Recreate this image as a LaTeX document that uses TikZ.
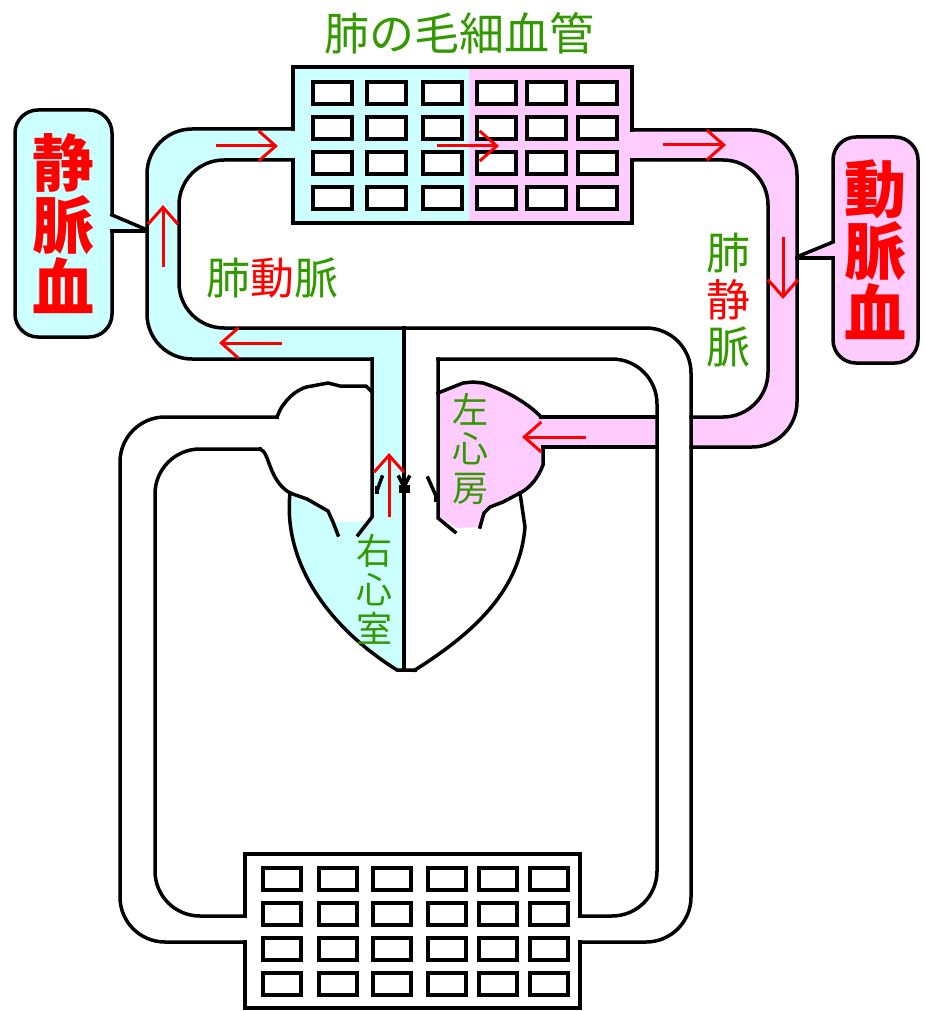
\documentclass[tikz,border=0pt]{standalone}
\usepackage{fontspec}
\newfontfamily\jp{Noto Sans CJK JP}
\usetikzlibrary{arrows.meta}
\definecolor{bluef}{HTML}{CCFFFF}
\definecolor{pinkf}{HTML}{FFCCFF}
\definecolor{grn}{HTML}{339900}
\begin{document}
\begin{tikzpicture}[x=1pt,y=-1pt,
  wall/.style={draw=black, line width=3.5pt, line cap=rect},
  pipe/.style={wall, rounded corners=45pt},
  cellbox/.style={draw=black, fill=white, line width=3.2pt},
  flow/.style={draw=red, line width=3pt, -{Straight Barb[length=17pt,width=30pt]}},
  tag/.style={inner sep=0pt, align=center},
  bigtag/.style={tag, draw=black, line width=3.5pt, rounded corners=23pt,
    font={\jp\bfseries\fontsize{62}{62}\selectfont}, text=red}]
\useasboundingbox (0,0) rectangle (925,1011);

% ---------- fills ----------
% pulmonary artery (blue)
\begin{scope}
  \clip (0,0) rectangle (404,400);
  \fill[bluef, rounded corners=45pt] (147,129) rectangle (500,359);
  \fill[white, rounded corners=45pt] (179,160) rectangle (500,328);
\end{scope}
% pulmonary vein (pink)
\begin{scope}
  \clip (545,0) rectangle (925,460);
  \fill[pinkf, rounded corners=45pt] (400,130) rectangle (797,447);
  \fill[white, rounded corners=45pt] (400,160) rectangle (768,417);
\end{scope}
\fill[white] (657,400) rectangle (691,460);
% lung capillary bed
\fill[bluef] (293,67) rectangle (469,223);
\fill[pinkf] (469,67) rectangle (632,223);
% right ventricle and trunk
\fill[bluef] (290,493) -- (307,499) -- (328,511) -- (333,522) -- (366,522)
  -- (372,517) -- (372,359) -- (404,359) -- (404,670) -- (400,670)
  .. controls (325,625) and (283,560) .. (290,493) -- cycle;
% left atrium
\fill[pinkf] (438,393) -- (463,383) -- (473,382) -- (483,383)
  .. controls (505,390) and (528,403) .. (541,417) -- (546,417) -- (546,447)
  -- (543,447) -- (543,465) .. controls (538,478) and (530,488) .. (520,493)
  -- (503,502) -- (490,507) -- (484,513) -- (480,527) -- (457,528)
  -- (442,518) -- (438,518) -- cycle;

% ---------- walls ----------
% capillary boxes
\draw[wall] (632,130) -- (632,67) -- (293,67) -- (293,129);
\draw[wall] (632,160) -- (632,223) -- (293,223) -- (293,160);
\draw[wall] (245,916) -- (245,854) -- (580,854) -- (580,916);
\draw[wall] (245,942) -- (245,1008) -- (580,1008) -- (580,942);
% pulmonary artery
\draw[pipe] (293,129) -- (147,129) -- (147,359) -- (372,359);
\draw[wall] (372,359) -- (372,517) -- (358,535);
% outer systemic artery wall
\draw[pipe] (293,160) -- (179,160) -- (179,328) -- (691,328) -- (691,942) -- (580,942);
% inner systemic artery wall
\draw[wall] (455,532) -- (438,518) -- (438,359);
\draw[pipe] (438,359) -- (657,359) -- (657,916) -- (580,916);
% septum
\draw[wall] (404,328) -- (404,670);
% pulmonary vein
\draw[pipe] (632,130) -- (797,130) -- (797,447) -- (691,447);
\draw[pipe] (632,160) -- (768,160) -- (768,417) -- (691,417);
\draw[wall] (657,417) -- (541,417);
\draw[wall] (657,447) -- (543,447);
% systemic vein
\draw[pipe] (277,417) -- (120,417) -- (120,942) -- (245,942);
\draw[pipe] (260,449) -- (155,449) -- (155,916) -- (245,916);
% right atrium
\draw[wall] (277,417) -- (280,410) .. controls (288,396) and (300,387) .. (312,386)
  -- (328,383) -- (340,386) -- (366,386) -- (372,392);
\draw[wall] (260,449) .. controls (270,452) and (268,480) .. (290,493)
  -- (307,499) -- (328,511) -- (333,522) -- (338,535);
% left atrium
\draw[wall] (438,393) -- (463,383) -- (473,382) -- (483,383)
  .. controls (505,390) and (528,403) .. (541,417);
\draw[wall] (543,447) -- (543,465) .. controls (538,478) and (530,488) .. (520,493)
  -- (503,502) -- (490,507) -- (484,513) -- (480,527);
% ventricle walls
\draw[wall] (290,493) .. controls (283,560) and (325,625) .. (397,670) -- (415,670);
\draw[wall] (520,493) -- (525,527) .. controls (520,590) and (475,632) .. (415,670);
% valves
\draw[wall] (382,477) -- (378,488);
\fill (375,486) rectangle (379,494);
\draw[wall] (399,477) -- (404,487);
\draw[wall] (409,477) -- (404,487);
\fill (399,485) rectangle (410,493);
\draw[wall] (428,478) -- (436,496);
\fill (434,494) rectangle (439,502);

% capillary cells
\foreach \cx in {313,367,423,477,527,578}
  \foreach \cy in {82,117,152,187}
    \draw[cellbox] (\cx,\cy) rectangle ++(39,22);
\foreach \cx in {263,319,373,428,479,530}
  \foreach \cy in {868,903,938,973}
    \draw[cellbox] (\cx,\cy) rectangle ++(38,22);

% ---------- flow arrows ----------
\coordinate (f1s) at (216,146); \coordinate (f1e) at (278,146);
\coordinate (f2s) at (437,146); \coordinate (f2e) at (499,146);
\coordinate (f3s) at (163,267); \coordinate (f3e) at (163,205);
\coordinate (f4s) at (282,343); \coordinate (f4e) at (219,343);
\coordinate (f5s) at (663,145); \coordinate (f5e) at (726,145);
\coordinate (f6s) at (783,237); \coordinate (f6e) at (783,299);
\coordinate (f7s) at (586,437); \coordinate (f7e) at (522,437);
\coordinate (f8s) at (389,517); \coordinate (f8e) at (389,453);
\foreach \k in {1,...,8} \draw[flow] (f\k s) -- (f\k e);

% ---------- labels ----------
\node[bigtag, fill=bluef, minimum width=97pt, minimum height=227pt]
  (venous) at (63.5,223.5) {静\\脈\\血};
\node[bigtag, fill=pinkf, minimum width=85pt, minimum height=226pt]
  (arterial) at (875.5,250) {動\\脈\\血};
% callout pointers
\fill[bluef] (108,215) -- (113,215) -- (146,230) -- (146,231) -- (108,231) -- cycle;
\draw[wall] (112,215) -- (145,229);
\draw[wall] (112,231) -- (147,231);
\fill[pinkf] (837,242) -- (832,242) -- (798,256) -- (798,257) -- (837,257) -- cycle;
\draw[wall] (833,242) -- (799,256);
\draw[wall] (833,258) -- (797,258);

\node[tag, font={\jp\fontsize{45}{45}\selectfont}, text=grn] (cap) at (459,33) {肺の毛細血管};
\node[tag, font={\jp\fontsize{44}{44}\selectfont}, text=grn] (partery) at (272,278)
  {肺{\color{red}動}脈};
\node[tag, font={\jp\fontsize{44}{47}\selectfont}, text=grn] (pvein) at (728,300)
  {肺\\{\color{red}静}\\脈};
\node[tag, font={\jp\fontsize{36}{39}\selectfont}, text=grn] (latrium) at (470,449)
  {左\\心\\房};
\node[tag, font={\jp\fontsize{36}{39}\selectfont}, text=grn] (rventricle) at (374,589)
  {右\\心\\室};
\end{tikzpicture}
\end{document}
